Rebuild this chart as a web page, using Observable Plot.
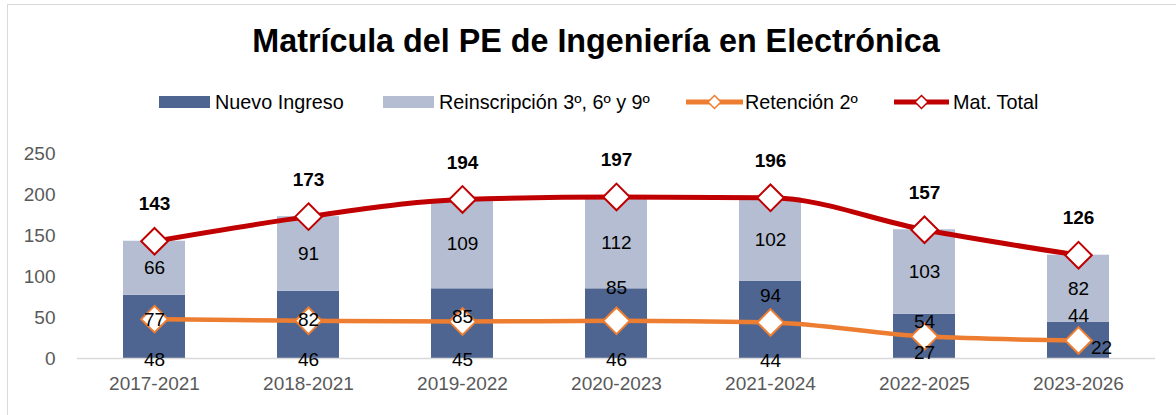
<!DOCTYPE html>
<html><head><meta charset="utf-8">
<script src="https://cdn.jsdelivr.net/npm/d3@7"></script>
<script src="https://cdn.jsdelivr.net/npm/@observablehq/plot@0.6"></script>
<style>
body{margin:0;background:#fff;font-family:"Liberation Sans",Arial,sans-serif;}
#wrap{position:relative;width:1176px;height:415px;overflow:hidden;background:#fff;}
#frame{position:absolute;left:7px;top:4px;width:1220px;height:520px;border:1.5px solid #d9d9d9;box-sizing:border-box;}
#title{position:absolute;left:0;width:1192px;top:23px;line-height:37px;text-align:center;font-weight:bold;font-size:32.3px;color:#000;white-space:nowrap;}
.item{position:absolute;top:91px;height:22px;display:flex;align-items:center;font-size:19.8px;line-height:22px;color:#000;white-space:nowrap;}
#chart{position:absolute;left:0;top:130px;}
</style></head><body>
<div id="wrap">
  <div id="frame"></div>
  <div id="title"></div>
  <div id="legend"></div>
  <div id="chart"></div>
</div>
<script>
const periodos = ["2017-2021","2018-2021","2019-2022","2020-2023","2021-2024","2022-2025","2023-2026"];
const nuevoIngreso = [77, 82, 85, 85, 94, 54, 44];
const reinscripcion = [66, 91, 109, 112, 102, 103, 82];
const retencion = [48, 46, 45, 46, 44, 27, 22];
const matTotal = [143, 173, 194, 197, 196, 157, 126];
const yTicks = [0, 50, 100, 150, 200, 250];
const series = ["Nuevo Ingreso", "Reinscripción 3º, 6º y 9º", "Retención 2º", "Mat. Total"];
const titulo = "Matrícula del PE de Ingeniería en Electrónica";

// styling / layout (not data)
const colors = ["#4F6591", "#B4BDD1", "#ED7D31", "#C00000"];
const nuevoLabelDy = [25, 29, 28, -1, 14, 8, -7];
const retLabelOff = [[0,41],[0,39.5],[0,38.6],[0,39.5],[0,38],[0,17],[23,7]];
const legendLeft = [159, 383, 686, 894];
const font = '"Liberation Sans",Arial,sans-serif';

document.getElementById("title").textContent = titulo;

// legend
const leg = document.getElementById("legend");
series.forEach((s, i) => {
  const it = document.createElement("div");
  it.className = "item";
  it.style.left = legendLeft[i] + "px";
  let sw;
  if (i < 2) {
    sw = `<svg width="51" height="22" style="margin-right:5px"><rect x="0" y="5" width="51" height="12" fill="${colors[i]}"/></svg>`;
  } else {
    const w = i === 2 ? 57 : 55;
    sw = `<svg width="${w}" height="22" style="margin-right:${i===2?2:4}px"><line x1="0" x2="${w}" y1="11" y2="11" stroke="${colors[i]}" stroke-width="5"/><path d="M${w/2},4.5L${w/2+6.5},11L${w/2},17.5L${w/2-6.5},11Z" fill="#fff" stroke="${colors[i]}" stroke-width="1.5"/></svg>`;
  }
  it.innerHTML = sw + `<span>${s}</span>`;
  leg.appendChild(it);
});

const rows = periodos.flatMap((p, i) => [
  {periodo: p, serie: series[0], v: nuevoIngreso[i]},
  {periodo: p, serie: series[1], v: reinscripcion[i]}
]);
const ret = periodos.map((p, i) => ({periodo: p, v: retencion[i]}));
const tot = periodos.map((p, i) => ({periodo: p, v: matTotal[i]}));

const txt = {fill: "#000", fontSize: 19};

const marks = [
  Plot.barY(rows, {x: "periodo", y: "v", fill: "serie"}),
  Plot.ruleY([0], {stroke: "#D9D9D9", strokeWidth: 1.5}),
  Plot.line(ret, {x: "periodo", y: "v", stroke: colors[2], strokeWidth: 4.5, curve: "monotone-x"}),
  Plot.line(tot, {x: "periodo", y: "v", stroke: colors[3], strokeWidth: 5, curve: "monotone-x"}),
  Plot.dot(ret, {x: "periodo", y: "v", symbol: "diamond2", r: 12, fill: "#fff", stroke: colors[2], strokeWidth: 2}),
  Plot.dot(tot, {x: "periodo", y: "v", symbol: "diamond2", r: 12, fill: "#fff", stroke: colors[3], strokeWidth: 2}),
  // Reinscripción labels (centered in segment)
  Plot.text(periodos.map((p, i) => ({periodo: p, y: nuevoIngreso[i] + reinscripcion[i] / 2, t: reinscripcion[i]})),
    {x: "periodo", y: "y", text: "t", ...txt}),
  // total labels
  Plot.text(tot, {x: "periodo", y: "v", text: "v", dy: -37, fontWeight: "bold", ...txt})
];
periodos.forEach((p, i) => {
  marks.push(Plot.text([{periodo: p, v: nuevoIngreso[i]}], {x: "periodo", y: "v", text: "v", dy: nuevoLabelDy[i], ...txt}));
  marks.push(Plot.text([{periodo: p, v: retencion[i]}], {x: "periodo", y: "v", text: "v", dx: retLabelOff[i][0], dy: retLabelOff[i][1], ...txt}));
});

const chart = Plot.plot({
  width: 1176, height: 285,
  marginLeft: 77, marginRight: 21, marginTop: 23, marginBottom: 57,
  style: {fontFamily: font, fontSize: "19px", color: "#595959", background: "transparent", overflow: "visible"},
  x: {domain: periodos, paddingInner: 0.6, paddingOuter: 0.3, label: null, tickSize: 0, tickPadding: 18},
  y: {domain: [0, 250], ticks: yTicks, label: null, tickSize: 0, tickPadding: 22},
  color: {domain: series, range: colors},
  marks
});
document.getElementById("chart").appendChild(chart);
</script>
</body></html>
